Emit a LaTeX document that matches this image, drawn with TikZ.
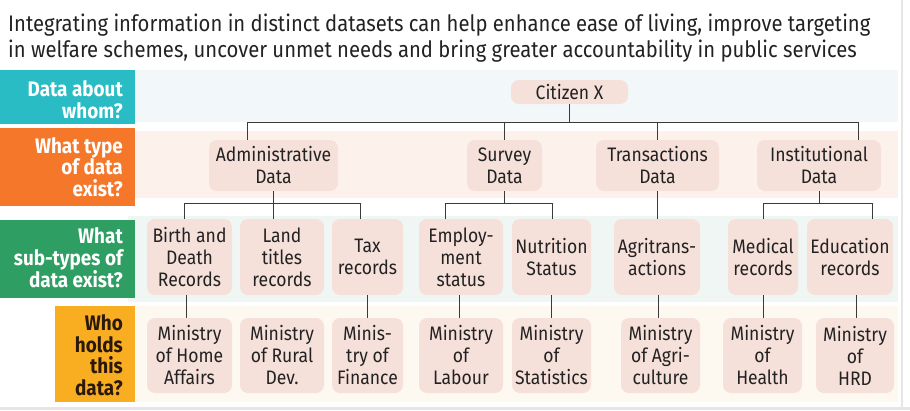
\documentclass[tikz,border=0pt]{standalone}
\usepackage{fontspec}
\setmainfont{Fira Sans}[FakeStretch=0.9]
\definecolor{cteal}{HTML}{29BCC4}
\definecolor{corange}{HTML}{F4772A}
\definecolor{cgreen}{HTML}{2E9E62}
\definecolor{cyellow}{HTML}{F9AE22}
\definecolor{bgone}{HTML}{F2F7FA}
\definecolor{bgtwo}{HTML}{FDF1EC}
\definecolor{bgthree}{HTML}{F0F6F3}
\definecolor{bgfour}{HTML}{FDF9F0}
\definecolor{nodefill}{HTML}{F6E0DA}
\definecolor{linecol}{HTML}{3A3A3A}
\definecolor{txt}{HTML}{222222}
\definecolor{darklab}{HTML}{2A1808}
\definecolor{frame}{HTML}{E6E6E6}
\tikzset{
  bx/.style={fill=nodefill, rounded corners=8pt, inner sep=0pt, align=center, text=txt,
    font=\fontsize{19.5}{22}\selectfont},
  lab/.style={anchor=east, align=right, inner sep=0pt, font=\bfseries\fontsize{21}{21.5}\selectfont},
  conn/.style={draw=linecol, line width=1pt},
  sub/.style={anchor=base west, inner sep=0pt, text=txt, font=\fontsize{22.5}{25}\selectfont}
}
\begin{document}
\begin{tikzpicture}[x=1pt,y=-1pt]
\useasboundingbox (0,0) rectangle (910,410);
% frame
\fill[frame] (0,407) rectangle (910,410);
\fill[frame] (901,0) rectangle (903,407);
% subtitle
\node[sub] (s1) at (8,31.5) {Integrating information in distinct datasets can help enhance ease of living, improve targeting};
\node[sub] (s2) at (8,57) {in welfare schemes, uncover unmet needs and bring greater accountability in public services};
% row backgrounds
\fill[bgone] (135,70) rectangle (898,122);
\fill[bgtwo] (135,131) rectangle (898,198);
\fill[bgthree] (128,216) rectangle (898,302);
\fill[bgfour] (135,306) rectangle (898,402);
% label boxes
\fill[cteal] (0,70) rectangle (135,124);
\fill[corange] (0,128) rectangle (135,206);
\fill[cgreen] (0,220) rectangle (135,298);
\fill[cyellow] (55,306) rectangle (135,402);
\node[lab, text=white] (l1) at (123,99.5) {Data about\\whom?};
\node[lab, text=white] (l2) at (123,167) {What type\\of data\\exist?};
\node[lab, text=white] (l3) at (123,258) {What\\sub-types of\\data exist?};
\node[lab, text=darklab] (l4) at (123,355) {Who\\holds\\this\\data?};
% top node
\node[bx, minimum width=117, minimum height=24] (cit) at (569.5,92) {Citizen X};
% type row
\node[bx, minimum width=129, minimum height=51] (adm) at (273.5,165.5) {Administrative\\Data};
\node[bx, minimum width=75, minimum height=51] (sur) at (504.5,165.5) {Survey\\Data};
\node[bx, minimum width=123, minimum height=51] (tra) at (657.5,165.5) {Transactions\\Data};
\node[bx, minimum width=124, minimum height=51] (ins) at (819,165.5) {Institutional\\Data};
% sub-type row
\node[bx, minimum width=85, minimum height=76] (bir) at (189.5,257) {Birth and\\Death\\Records};
\node[bx, minimum width=84, minimum height=76] (lan) at (282,257) {Land\\titles\\records};
\node[bx, minimum width=71, minimum height=76] (tax) at (367.5,257) {Tax\\records};
\node[bx, minimum width=84, minimum height=76] (emp) at (461,257) {Employ-\\ment\\status};
\node[bx, minimum width=79, minimum height=76] (nut) at (551.5,257) {Nutrition\\Status};
\node[bx, minimum width=86, minimum height=76] (agr) at (657,257) {Agritrans-\\actions};
\node[bx, minimum width=70, minimum height=76] (med) at (763,257) {Medical\\records};
\node[bx, minimum width=86, minimum height=76] (edu) at (850,257) {Education\\records};
% ministry row
\node[bx, minimum width=85, minimum height=75] (hom) at (189.5,355.5) {Ministry\\of Home\\Affairs};
\node[bx, minimum width=84, minimum height=75] (rur) at (282,355.5) {Ministry\\of Rural\\Dev.};
\node[bx, minimum width=71, minimum height=75] (fin) at (367.5,355.5) {Minis-\\try of\\Finance};
\node[bx, minimum width=84, minimum height=75] (lab) at (461,355.5) {Ministry\\of\\Labour};
\node[bx, minimum width=79, minimum height=75] (sta) at (551.5,355.5) {Ministry\\of\\Statistics};
\node[bx, minimum width=79, minimum height=75] (agc) at (660.5,355.5) {Ministry\\of Agri-\\culture};
\node[bx, minimum width=79, minimum height=75] (hea) at (762.5,355.5) {Ministry\\of\\Health};
\node[bx, minimum width=78, minimum height=75] (hrd) at (855,355.5) {Ministry\\of\\HRD};
% helper coordinates
\coordinate (busa) at (0,122.3);
\coordinate (busb) at (0,203);
\coordinate (xa) at (247,0);
\coordinate (xi) at (858,0);
\coordinate (xb) at (184,0);
\coordinate (xt) at (360,0);
\coordinate (xe) at (445,0);
\coordinate (xn) at (552,0);
\coordinate (xd) at (872,0);
\coordinate (xh) at (186,0);
\coordinate (xl) at (459,0);
\coordinate (xg) at (658,0);
\coordinate (xr) at (856,0);
% level 1 connectors
\draw[conn] (cit.south) -- (cit.south |- busa);
\draw[conn] (adm.north -| xa) -- (xa |- busa) -- (xi |- busa) -- (ins.north -| xi);
\draw[conn] (sur.north) -- (sur.north |- busa);
\draw[conn] (tra.north) -- (tra.north |- busa);
% level 2 connectors
\draw[conn] (adm.south) -- (adm.south |- lan.north);
\draw[conn] (bir.north -| xb) -- (xb |- busb) -- (xt |- busb) -- (tax.north -| xt);
\draw[conn] (sur.south) -- (sur.south |- busb);
\draw[conn] (emp.north -| xe) -- (xe |- busb) -- (xn |- busb) -- (nut.north -| xn);
\draw[conn] (tra.south) -- (tra.south |- agr.north);
\draw[conn] (ins.south) -- (ins.south |- busb);
\draw[conn] (med.north) -- (med.north |- busb) -- (xd |- busb) -- (edu.north -| xd);
% level 3 connectors
\draw[conn] (bir.south -| xh) -- (hom.north -| xh);
\draw[conn] (tax.south) -- (fin.north);
\draw[conn] (emp.south -| xl) -- (lab.north -| xl);
\draw[conn] (nut.south) -- (sta.north);
\draw[conn] (agr.south -| xg) -- (agc.north -| xg);
\draw[conn] (med.south) -- (med.south |- hea.north);
\draw[conn] (edu.south -| xr) -- (hrd.north -| xr);
\end{tikzpicture}
\end{document}
